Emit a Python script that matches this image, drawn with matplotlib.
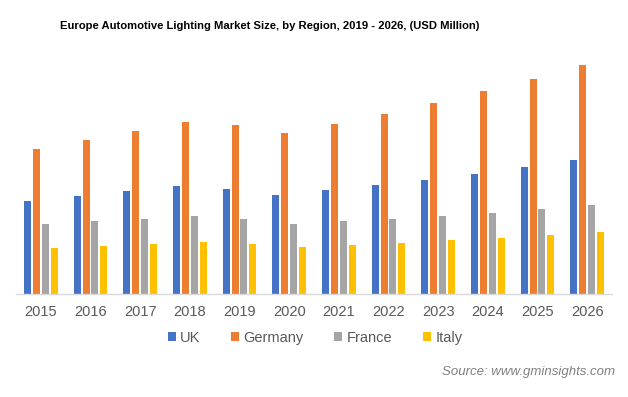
import matplotlib
matplotlib.use("Agg")
import matplotlib.pyplot as plt
import numpy as np
from matplotlib.patches import Patch

plt.rcParams["font.family"] = ["Liberation Sans", "DejaVu Sans"]

years = ["2015", "2016", "2017", "2018", "2019", "2020", "2021", "2022", "2023", "2024", "2025", "2026"]
uk = [93, 98, 103, 108, 105, 99, 104, 109, 114, 120, 127, 134]
germany = [145, 154, 163, 172, 169, 161, 170, 180, 191, 203, 215, 229]
france = [70, 73, 75, 78, 75, 70, 73, 75, 78, 81, 85, 89]
italy = [46, 48, 50, 52, 50, 47, 49, 51, 54, 56, 59, 62]

series = [("UK", uk, "#4472C4"), ("Germany", germany, "#ED7D31"),
          ("France", france, "#A5A5A5"), ("Italy", italy, "#FFC000")]

W, H = 628, 397
fig = plt.figure(figsize=(W / 100, H / 100), dpi=100)
ax = fig.add_axes([16 / W, (H - 294) / H, (612 - 16) / W, (294 - 55) / H])

x = np.arange(len(years))
bw = 0.14
offsets = [-0.27, -0.09, 0.09, 0.27]
for (name, vals, col), off in zip(series, offsets):
    ax.bar(x + off, vals, width=bw, color=col, label=name, zorder=2)

ax.set_xlim(-0.5, len(years) - 0.5)
ax.set_ylim(0, 239)
ax.set_yticks([])
ax.set_xticks(x)
ax.set_xticklabels(years, fontsize=10.5, color="#595959")
ax.tick_params(axis="x", length=0, pad=8)
for s in ["top", "right", "left"]:
    ax.spines[s].set_visible(False)
ax.spines["bottom"].set_color("#D9D9D9")
ax.spines["bottom"].set_linewidth(1.0)

fig.text(270 / W, 1 - 26 / H, "Europe Automotive Lighting Market Size, by Region, 2019 - 2026, (USD Million)",
         ha="center", va="center", fontsize=8.1, fontweight="bold", color="#000000")

handles = [Patch(facecolor=c, edgecolor="none") for _, _, c in series]
labels = [n for n, _, _ in series]
leg = fig.legend(handles, labels, loc="center", bbox_to_anchor=(315 / W, 1 - 338 / H), ncol=4,
                 frameon=False, fontsize=10.5, handlelength=0.55, handleheight=0.55,
                 handletextpad=0.3, columnspacing=2.1, labelcolor="#595959")

fig.text(615 / W, 1 - 372 / H, "Source: www.gminsights.com", ha="right", va="center",
         fontsize=9.5, style="italic", color="#808080")

fig.savefig("out.png", dpi=100)
